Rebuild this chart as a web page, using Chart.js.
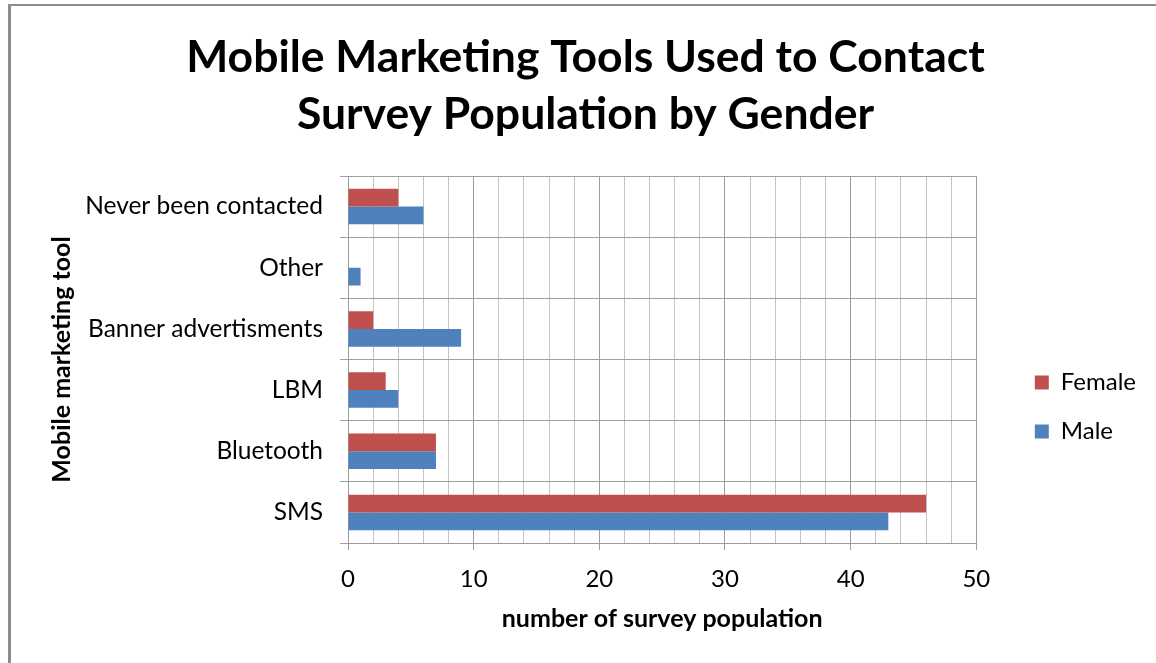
<!DOCTYPE html>
<html>
<head>
<meta charset="utf-8">
<script src="https://cdn.jsdelivr.net/npm/chart.js@4.4.1/dist/chart.umd.min.js"></script>
<style>
  html, body { margin: 0; padding: 0; background: #fff; overflow: hidden; }
  #frame { position: absolute; left: 8px; top: 4px; width: 1300px; height: 800px;
           border-left: 3px solid #8c8c8c; border-top: 2px solid #8c8c8c; z-index: 0; }
  #wrap { position: absolute; left: 0; top: 0; width: 1156px; height: 663px; z-index: 1; }
</style>
</head>
<body>
<div id="frame"></div>
<div id="wrap"><canvas id="c" width="1156" height="663"></canvas></div>
<script>
// ---- data ----
const categories = ['Never been contacted', 'Other', 'Banner advertisments', 'LBM', 'Bluetooth', 'SMS'];
const femaleValues = [4, 0, 2, 3, 7, 46];
const maleValues = [6, 1, 9, 4, 7, 43];
const seriesNames = ['Female', 'Male'];
const titleLines = ['Mobile Marketing Tools Used to Contact', 'Survey Population by Gender'];
const xAxisTitle = 'number of survey population';
const yAxisTitle = 'Mobile marketing tool';
const xMin = 0, xMax = 50, xMinorStep = 2, xMajorStep = 10;

const FONT = 'Lato';
Chart.defaults.font.family = FONT;
Chart.defaults.color = '#000';

new Chart(document.getElementById('c'), {
  type: 'bar',
  data: {
    labels: categories,
    datasets: [
      { label: seriesNames[0], data: femaleValues, backgroundColor: '#C0504D', borderWidth: 0 },
      { label: seriesNames[1], data: maleValues, backgroundColor: '#4F81BD', borderWidth: 0 }
    ]
  },
  options: {
    indexAxis: 'y',
    responsive: false,
    animation: false,
    events: [],
    categoryPercentage: 0.58,
    barPercentage: 1.0,
    layout: { padding: { left: 25, right: 10, top: 0, bottom: 0 } },
    scales: {
      x: {
        type: 'linear',
        min: xMin, max: xMax,
        afterFit: s => { s.height = 120; },
        ticks: {
          stepSize: xMinorStep,
          autoSkip: false,
          maxRotation: 0,
          padding: 15,
          color: '#000',
          font: { size: 24, family: FONT },
          callback: v => (v % xMajorStep === 0 ? v : '')
        },
        grid: {
          color: c => (c.tick && c.tick.value % xMajorStep === 0 ? '#9c9c9c' : '#c4c4c4'),
          tickColor: c => (c.tick && c.tick.value % xMajorStep === 0 ? '#9c9c9c' : 'rgba(0,0,0,0)'),
          tickLength: 7,
          lineWidth: 1
        },
        border: { display: true, color: '#9c9c9c' },
        title: {
          display: true, text: xAxisTitle, color: '#000',
          font: { size: 25, weight: 'bold', family: FONT },
          padding: { top: 0, bottom: 29.5 }
        }
      },
      y: {
        type: 'category',
        afterFit: s => { s.width = 323; },
        ticks: {
          padding: 17,
          color: '#000',
          font: { size: 24.5, family: FONT }
        },
        grid: { offset: true, color: '#a0a0a0', tickColor: '#a0a0a0', tickLength: 8, lineWidth: 1 },
        border: { display: true, color: '#9c9c9c' },
        title: {
          display: true, text: yAxisTitle, color: '#000',
          font: { size: 25, weight: 'bold', family: FONT },
          padding: { top: 21.7, bottom: 0 }
        }
      },
      gap: {
        type: 'linear',
        position: 'right',
        display: true,
        afterFit: s => { s.width = 33.5; },
        ticks: { display: false },
        grid: { display: false, drawTicks: false },
        border: { display: false }
      }
    },
    plugins: {
      title: {
        display: true,
        text: titleLines,
        color: '#000',
        font: { size: 44.5, weight: 'bold', family: FONT, lineHeight: 57 / 44.5 },
        padding: { top: 29, bottom: 33 }
      },
      legend: {
        position: 'right',
        align: 'start',
        fullSize: false,
        title: { display: true, text: ' ', font: { size: 10, lineHeight: 1 }, padding: { top: 159.5, bottom: 0 } },
        labels: {
          boxWidth: 14, boxHeight: 14, padding: 25,
          color: '#000',
          font: { size: 24, family: FONT }
        }
      },
      tooltip: { enabled: false }
    }
  }
});
</script>
</body>
</html>
